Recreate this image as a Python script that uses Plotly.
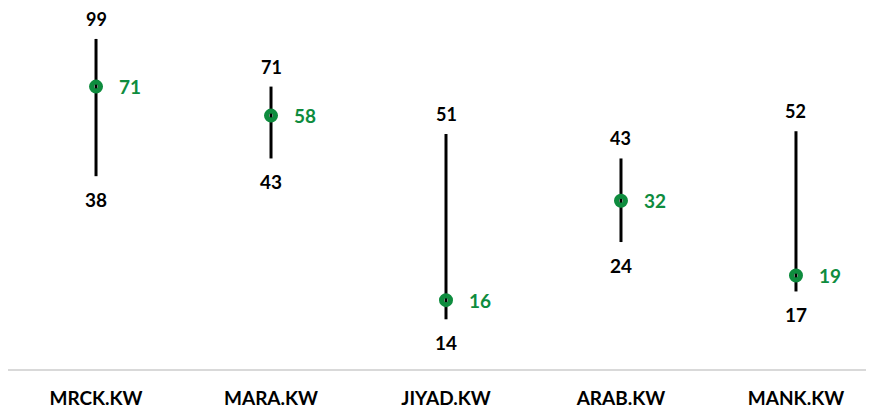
import numpy as np
import plotly.graph_objects as go

categories = ["MRCK.KW", "MARA.KW", "JIYAD.KW", "ARAB.KW", "MANK.KW"]
high_vals = [99, 71, 51, 43, 52]
low_vals = [38, 43, 14, 24, 17]
current_vals = [71, 58, 16, 32, 19]

GREEN = "#0E8C3E"
FONT = "Lato"
xs = list(range(len(categories)))

fig = go.Figure()

lx, ly = [], []
for i, (h, l) in enumerate(zip(high_vals, low_vals)):
    lx += [i, i, None]
    ly += [l, h, None]
fig.add_trace(go.Scatter(x=lx, y=ly, mode="lines",
                         line=dict(color="black", width=3), hoverinfo="skip"))

fig.add_trace(go.Scatter(x=xs, y=current_vals, mode="markers",
                         marker=dict(symbol="circle-open", size=9, color=GREEN,
                                     line=dict(width=5, color=GREEN))))

for i in xs:
    fig.add_annotation(x=i, y=np.log10(high_vals[i]), text=f"<b>{high_vals[i]}</b>",
                       showarrow=False, yshift=20, yanchor="middle",
                       font=dict(family=FONT, size=18, color="black"))
    fig.add_annotation(x=i, y=np.log10(low_vals[i]), text=f"<b>{low_vals[i]}</b>",
                       showarrow=False, yshift=-23,
                       font=dict(family=FONT, size=19, color="black"))
    fig.add_annotation(x=i, y=np.log10(current_vals[i]), text=f"<b>{current_vals[i]}</b>",
                       showarrow=False, xshift=34,
                       font=dict(family=FONT, size=19, color=GREEN))

fig.update_layout(
    width=866, height=401,
    margin=dict(l=0, r=4, t=10, b=40),
    plot_bgcolor="white", paper_bgcolor="white",
    showlegend=False,
    font=dict(family=FONT),
)
fig.update_xaxes(range=[-0.503, 4.423], tickmode="array", tickvals=xs,
                 ticktext=[f"<b>{c}</b>" for c in categories],
                 tickfont=dict(family=FONT, size=19, color="black"),
                 showgrid=False, zeroline=False, showline=True,
                 linecolor="#D9D9D9", linewidth=2, ticks="", ticklen=0,
                 ticklabelstandoff=11)
fig.update_yaxes(type="log", range=[0.9955, 2.0591], visible=False, showgrid=False)

fig.write_html("out.html")
